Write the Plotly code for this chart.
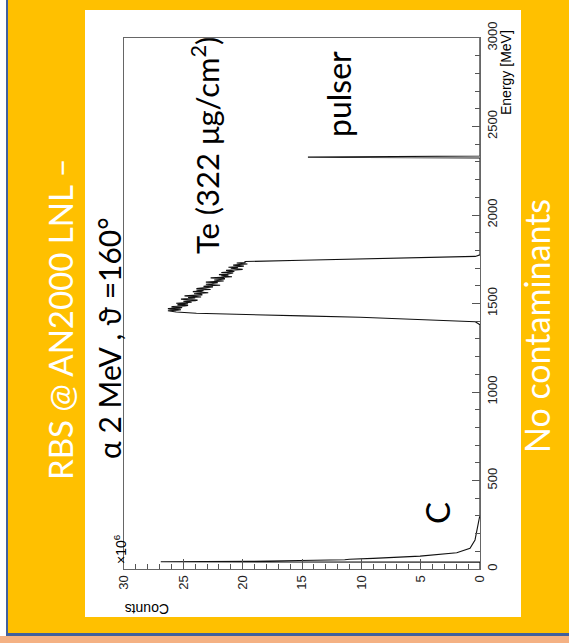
import plotly.graph_objects as go

# ---------------- data (energy in MeV, counts in units of 1e6) ----------------
c_energy = [0, 39, 41, 43, 52, 55, 60, 73, 92, 117, 164, 239, 277, 290, 300]
c_counts = [0, 0, 26.9, 19.5, 11.4, 11.0, 9.0, 5.05, 1.96, 0.84, 0.42, 0.22, 0.14, 0.05, 0]

te_rise_energy = [1380, 1397, 1410, 1422, 1430, 1438, 1445, 1452]
te_rise_counts = [0, 0.4, 5.0, 10.1, 15.0, 20.0, 23.9, 25.6]

te_plateau_energy = [1459, 1462, 1465, 1468, 1471, 1474, 1477, 1480, 1483, 1486,
                     1489, 1492, 1495, 1498, 1501, 1504, 1507, 1510, 1513, 1516,
                     1519, 1522, 1525, 1528, 1531, 1534, 1537, 1540, 1543, 1546,
                     1549, 1552, 1555, 1558, 1561, 1564, 1567, 1570, 1573, 1576,
                     1579, 1582, 1585, 1588, 1591, 1594, 1597, 1600, 1603, 1606,
                     1609, 1612, 1615, 1618, 1621, 1624, 1627, 1630, 1633, 1636,
                     1639, 1642, 1645, 1648, 1651, 1654, 1657, 1660, 1663, 1666,
                     1669, 1672, 1675, 1678, 1681, 1684, 1687, 1690, 1693, 1696,
                     1699, 1702, 1705, 1708, 1711, 1714, 1717, 1720, 1723, 1726,
                     1729, 1732, 1735]
te_plateau_counts = [26.3, 25.5, 25.2, 26.1, 26.3, 25.3, 25.1, 26.0, 25.9, 24.9,
                     24.6, 25.5, 25.3, 24.6, 25.6, 24.9, 24.3, 24.7, 25.0, 24.0,
                     23.8, 24.6, 25.2, 24.5, 24.0, 24.6, 23.5, 24.1, 24.9, 24.2,
                     23.4, 23.5, 24.1, 23.6, 22.9, 23.6, 24.2, 23.5, 23.3, 23.9,
                     22.7, 23.1, 23.9, 23.3, 22.6, 22.5, 23.3, 22.9, 21.9, 22.5,
                     23.1, 22.6, 22.3, 22.1, 23.1, 22.6, 21.6, 22.1, 22.4, 21.9,
                     21.5, 21.6, 22.7, 21.8, 20.9, 21.5, 21.8, 21.2, 22.0, 21.3,
                     20.8, 20.8, 21.8, 21.1, 20.7, 21.1, 21.4, 20.6, 20.0, 20.6,
                     21.0, 20.4, 21.2, 20.5, 19.9, 20.3, 20.8, 20.3, 19.6, 20.1,
                     20.5, 19.8, 19.8]

te_fall_energy = [1737, 1744, 1751, 1758, 1763, 1766, 1775]
te_fall_counts = [19.8, 15.0, 10.0, 5.0, 1.0, 0.4, 0]

pulser_energy = [2322, 2327, 2329, 2330, 2333, 3000]
pulser_counts = [0, 14.5, 8.3, 4.8, 0, 0]

energy = c_energy + te_rise_energy + te_plateau_energy + te_fall_energy + pulser_energy
counts = c_counts + te_rise_counts + te_plateau_counts + te_fall_counts + pulser_counts

count_ticks = [0, 5, 10, 15, 20, 25, 30]
energy_ticks = [0, 500, 1000, 1500, 2000, 2500, 3000]

# ---------------- layout geometry (pixels) ----------------
W, H = 569, 643
L, R, T, B = 124, 480, 38, 569   # plot area in pixels


def px(x):
    return (x - L) / (R - L)


def py(y):
    return (B - y) / (B - T)


fig = go.Figure()
fig.add_trace(go.Scatter(x=counts, y=energy, mode="lines",
                         line=dict(color="#111111", width=1.1),
                         hoverinfo="skip", showlegend=False))

axis_font = dict(family="Liberation Sans, Arial, sans-serif", size=13, color="#222")

fig.update_layout(
    width=W, height=H,
    margin=dict(l=L, r=W - R, t=T, b=H - B, pad=0),
    paper_bgcolor="white",
    plot_bgcolor="white",
    showlegend=False,
    xaxis=dict(range=[30, 0], tickvals=count_ticks, ticktext=[str(v) for v in count_ticks],
               ticks="inside", ticklen=10, tickcolor="#555", tickwidth=1,
               minor=dict(dtick=1, ticks="inside", ticklen=5, tickcolor="#555"),
               tickangle=-90, tickfont=axis_font,
               showline=True, linecolor="#666", linewidth=1, mirror=True,
               showgrid=False, zeroline=False, fixedrange=True),
    yaxis=dict(range=[0, 3000], tickvals=energy_ticks, ticktext=[str(v) for v in energy_ticks],
               side="right", ticks="inside", ticklen=8, tickcolor="#555",
               minor=dict(dtick=100, ticks="inside", ticklen=5, tickcolor="#555"),
               tickangle=-90, tickfont=axis_font,
               showline=True, linecolor="#666", linewidth=1, mirror=True,
               showgrid=False, zeroline=False, fixedrange=True),
)

GOLD = "#FFC000"
BLUE = "#41609C"


def rect(x0, x1, y0, y1, color):
    return dict(type="rect", xref="paper", yref="paper",
                x0=px(x0), x1=px(x1), y0=py(y0), y1=py(y1),
                fillcolor=color, line=dict(width=0), layer="above")


# slide frame around the white panel (x 85-521, y 10-617)
shapes = [
    rect(8, 85, 0, 633, GOLD),
    rect(521, 569, 0, 633, GOLD),
    rect(85, 521, 0, 10, GOLD),
    rect(85, 521, 617, 633, GOLD),
    rect(6, 8, 0, 636, BLUE),
    rect(6, 569, 633, 636, BLUE),
    rect(0, 569, 636, 643, "#F4B183"),
]
fig.update_layout(shapes=shapes)

big = "Lato, Open Sans, sans-serif"
small = "Liberation Sans, Arial, sans-serif"


def ann(text, x, y, size, color="black", angle=-90, family=big):
    fig.add_annotation(text=text, x=px(x), y=py(y), xref="paper", yref="paper",
                       showarrow=False, textangle=angle, xanchor="center", yanchor="middle",
                       font=dict(family=family, size=size, color=color))


ann("RBS @ AN2000 LNL –", 60, 319, 33, color="white")
ann("α 2 MeV , ϑ =160°", 109, 338, 30)
ann("Te (322 μg/cm<sup>2</sup>)", 205, 146, 31)
ann("pulser", 338, 94, 32)
ann("C", 437, 513, 33)
ann("No contaminants", 536, 326, 34, color="white")
ann("Counts", 147, 609, 14, angle=180, family=small)
ann("×10<sup>6</sup>", 120, 549, 14, family=small)
ann("Energy [MeV]", 506, 73, 14, family=small)

fig.write_html("out.html")
